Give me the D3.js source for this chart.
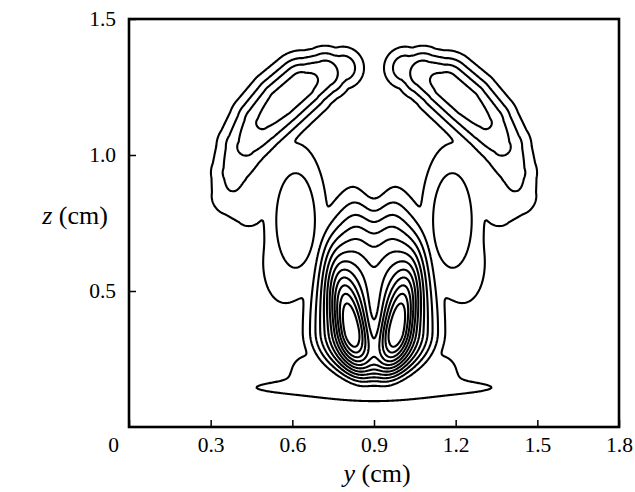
<!DOCTYPE html>
<html>
<head>
<meta charset="utf-8">
<script src="https://cdn.jsdelivr.net/npm/d3@7"></script>
<style>
  body { margin: 0; background: #fff; }
  svg { display: block; }
</style>
</head>
<body>
<svg id="chart" width="635" height="492"></svg>
<script>
// ---- axes -------------------------------------------------------------
const xTicks = [0, 0.3, 0.6, 0.9, 1.2, 1.5, 1.8];
const xMinorTicks = [0.1, 0.2, 0.4, 0.5, 0.7, 0.8, 1.0, 1.1, 1.3, 1.4, 1.6, 1.7];
const yTicks = [0.5, 1.0, 1.5];
const yMinorTicks = [0.1, 0.2, 0.3, 0.4, 0.6, 0.7, 0.8, 0.9, 1.1, 1.2, 1.3, 1.4];
const xDomain = [0, 1.8];
const yDomain = [0, 1.5];

// ---- contoured field ---------------------------------------------------
const levels = [1, 2, 3, 4, 5, 6, 7, 8, 9, 10, 11, 12];
const symmetryY = 0.9;

// upper arm on the left of the symmetry plane (the right arm is its mirror)
// [y (cm), z (cm), peak, half-width (cm)]
const armSpine = [
  [0.785, 1.320, 2.6, 0.056],
  [0.720, 1.300, 3.7, 0.064],
  [0.635, 1.258, 4.6, 0.075],
  [0.560, 1.192, 4.6, 0.077],
  [0.490, 1.118, 4.1, 0.076],
  [0.430, 1.030, 3.2, 0.072],
  [0.390, 0.935, 2.4, 0.066],
  [0.375, 0.850, 1.9, 0.060],
  [0.440, 0.790, 1.5, 0.052]
];
const armShape = 1.2;

// cell record: [y, z, sLeft, sRight, sDown, sUp, peak, shape exponent, tilt (deg)]
// separate cells left of the symmetry plane, mirrored to the right
const sideCells = [
  [0.612, 0.760, 0.0857, 0.0857, 0.209, 0.209, 2.25, 2, 0],  // side cell
  [0.570, 0.600, 0.070, 0.070, 0.130, 0.130, 1.4, 2, 0],      // lower flank
  [0.500, 0.900, 0.070, 0.070, 0.100, 0.100, 1.35, 2, 0],     // arm root
  [0.660, 0.215, 0.070, 0.070, 0.060, 0.060, 1.3, 1, 0]       // base of the stem
];
// central column: these parts add up (left core mirrored to the right)
const coreCells = [
  [0.815, 0.360, 0.040, 0.040, 0.100, 0.160, 6.0, 1, 12]
];
const centreCells = [
  [0.900, 0.350, 0.155, 0.155, 0.125, 0.340, 7.5, 2, 0],    // main body
  [0.900, 0.380, 0.025, 0.025, 0.120, 0.120, -1.3, 1, 0],   // gap between cores
  [0.900, 0.800, 0.040, 0.040, 0.180, 0.180, -1.6, 1, 0]    // dip at the top
];
// foot along the bottom
const footCells = [
  [0.900, 0.145, 0.400, 0.400, 0.028, 0.028, 1.7, 1, 0],
  [0.900, 0.165, 0.330, 0.330, 0.075, 0.075, 1.5, 1, 0]
];
const blend = 5;   // sharpness of the joins between separate parts

// ---- layout -------------------------------------------------------------
const svg = d3.select("#chart");
const serif = "'Liberation Serif', 'Times New Roman', Times, serif";
const x = d3.scaleLinear().domain(xDomain).range([129, 619]);
const y = d3.scaleLinear().domain(yDomain).range([427, 19]);

function cellValue(c, py, pz) {
  const [cy, cz, sl, sr, sd, su, peak, p, tilt] = c;
  const t = tilt * Math.PI / 180;
  const dy = py - cy, dz = pz - cz;
  const u = dy * Math.cos(t) + dz * Math.sin(t);
  const v = -dy * Math.sin(t) + dz * Math.cos(t);
  const a = u / (u < 0 ? sl : sr), b = v / (v < 0 ? sd : su);
  const q = (a * a + b * b) / 2;
  return peak * Math.exp(-Math.pow(q, p));
}

// ridge along the arm spine: strongest contribution of its segments
function armValue(py, pz) {
  let f = 0;
  for (let k = 0; k < armSpine.length - 1; k++) {
    const [y0, z0, a0, w0] = armSpine[k];
    const [y1, z1, a1, w1] = armSpine[k + 1];
    const ey = y1 - y0, ez = z1 - z0;
    let s = ((py - y0) * ey + (pz - z0) * ez) / (ey * ey + ez * ez);
    s = Math.max(0, Math.min(1, s));
    const dy = py - (y0 + s * ey), dz = pz - (z0 + s * ez);
    const amp = a0 + s * (a1 - a0), w = w0 + s * (w1 - w0);
    const q = (dy * dy + dz * dz) / (2 * w * w);
    f = Math.max(f, amp * Math.exp(-Math.pow(q, armShape)));
  }
  return f;
}

function smoothMax(vals, k) {
  const m = Math.max(...vals);
  let s = 0;
  for (const v of vals) s += Math.exp(k * (v - m));
  return m + Math.log(s) / k;
}

function field(py, pz) {
  const pm = 2 * symmetryY - py;
  const parts = [armValue(py, pz), armValue(pm, pz)];
  for (const c of sideCells) parts.push(cellValue(c, py, pz), cellValue(c, pm, pz));
  let column = 0;
  for (const c of centreCells) column += cellValue(c, py, pz);
  for (const c of coreCells) column += cellValue(c, py, pz) + cellValue(c, pm, pz);
  parts.push(column);
  for (const c of footCells) parts.push(cellValue(c, py, pz));
  return smoothMax(parts, blend);
}

const step = 0.004;
const nx = Math.round((xDomain[1] - xDomain[0]) / step) + 1;
const ny = Math.round((yDomain[1] - yDomain[0]) / step) + 1;
const values = new Float64Array(nx * ny);
for (let j = 0; j < ny; j++) {
  for (let i = 0; i < nx; i++) {
    values[j * nx + i] = field(xDomain[0] + i * step, yDomain[0] + j * step);
  }
}

const rings = d3.contours().size([nx, ny]).thresholds(levels)(values);
const project = d3.geoTransform({
  point(gx, gy) {
    this.stream.point(x(xDomain[0] + (gx - 0.5) * step), y(yDomain[0] + (gy - 0.5) * step));
  }
});
const path = d3.geoPath(project);

svg.append("g")
  .attr("fill", "none")
  .attr("stroke", "#000")
  .attr("stroke-width", 2.1)
  .attr("stroke-linejoin", "round")
  .selectAll("path")
  .data(rings)
  .join("path")
  .attr("d", path);

// ---- frame and axes ----------------------------------------------------------
const axisFont = 21.5;
const gx = svg.append("g").attr("transform", `translate(0,${y(0)})`);
gx.call(d3.axisBottom(x).tickValues(xMinorTicks).tickSize(-4).tickFormat(""));
gx.call(d3.axisBottom(x).tickValues(xTicks).tickSize(-7).tickPadding(10)
  .tickFormat(d => d === 0 ? "0" : d3.format(".1f")(d)));
gx.selectAll(".domain").remove();
gx.attr("font-family", serif).attr("font-size", axisFont);
gx.selectAll("text").attr("font-family", serif).attr("font-size", axisFont).attr("fill", "#000");
gx.selectAll(".tick").filter(d => d === 0).select("text").attr("dx", -16);

const gy = svg.append("g").attr("transform", `translate(${x(0)},0)`);
gy.call(d3.axisLeft(y).tickValues(yMinorTicks).tickSize(-4).tickFormat(""));
gy.call(d3.axisLeft(y).tickValues(yTicks).tickSize(-7).tickPadding(13)
  .tickFormat(d3.format(".1f")));
gy.selectAll(".domain").remove();
gy.attr("font-family", serif).attr("font-size", axisFont);
gy.selectAll("text").attr("font-family", serif).attr("font-size", axisFont).attr("fill", "#000");
svg.selectAll(".tick line").attr("stroke-width", 1.5);

svg.append("rect")
  .attr("x", x(0)).attr("y", y(1.5))
  .attr("width", x(1.8) - x(0)).attr("height", y(0) - y(1.5))
  .attr("fill", "none").attr("stroke", "#000").attr("stroke-width", 2.6);

const xt = svg.append("text")
  .attr("x", (x(0) + x(1.8)) / 2 + 3).attr("y", 482)
  .attr("text-anchor", "middle").attr("font-size", 26)
  .attr("font-family", serif);
xt.append("tspan").attr("font-style", "italic").text("y");
xt.append("tspan").text(" (cm)");

const yt = svg.append("text")
  .attr("x", 75).attr("y", 224)
  .attr("text-anchor", "middle").attr("font-size", 26)
  .attr("font-family", serif);
yt.append("tspan").attr("font-style", "italic").text("z");
yt.append("tspan").text(" (cm)");
</script>
</body>
</html>
